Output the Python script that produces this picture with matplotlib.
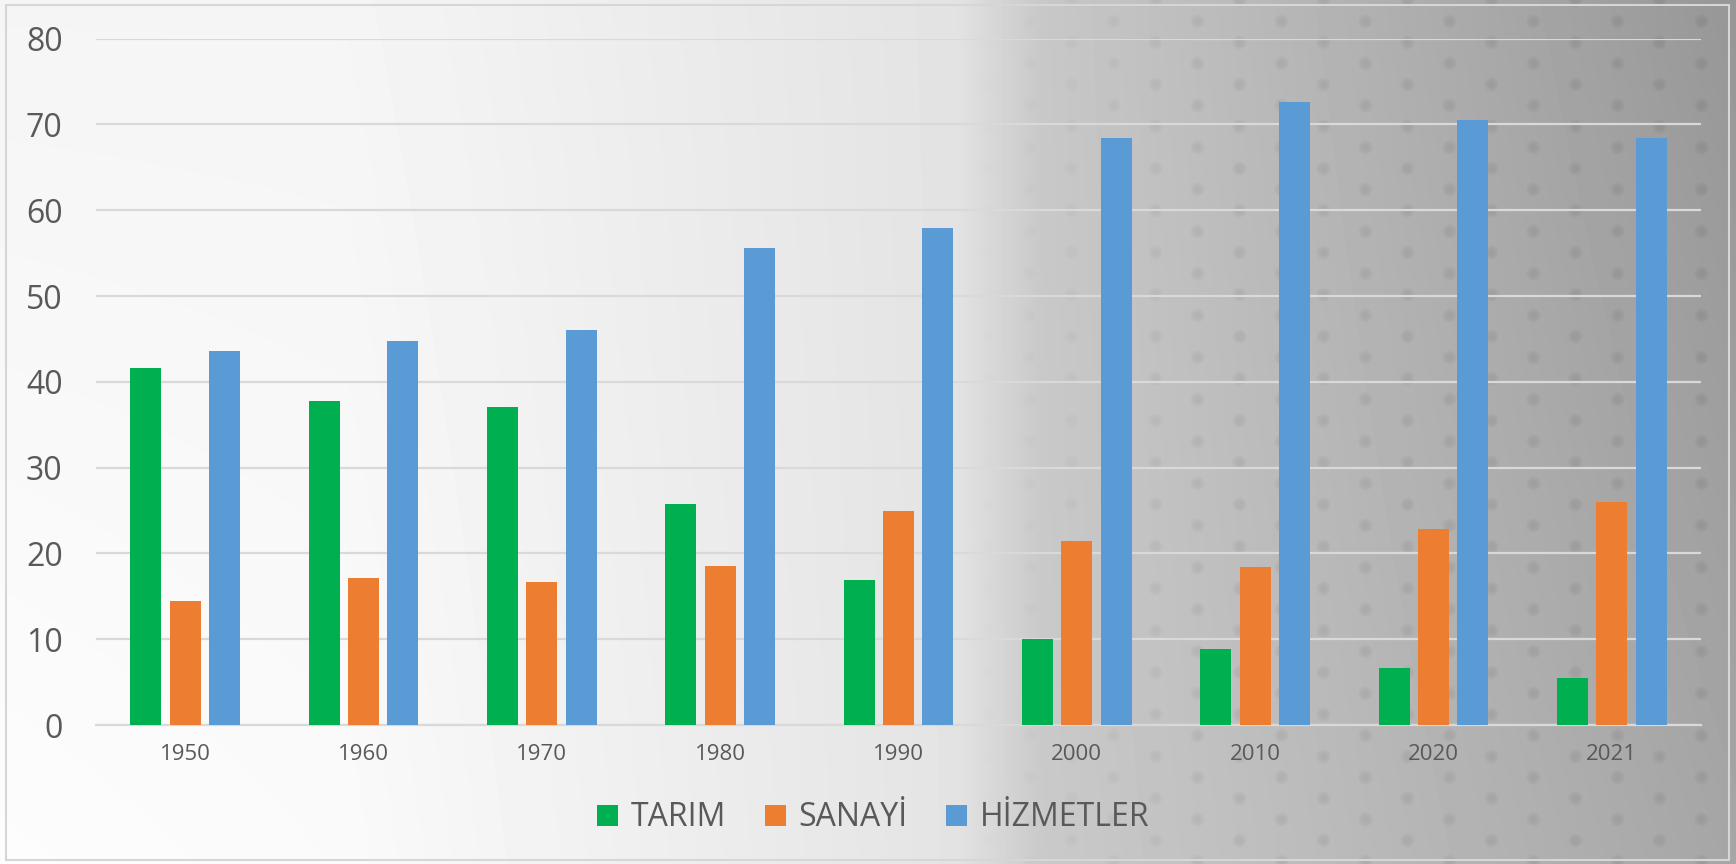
import numpy as np
import matplotlib
matplotlib.use("Agg")
import matplotlib.pyplot as plt
from matplotlib.patches import Patch, Rectangle

years = ["1950", "1960", "1970", "1980", "1990", "2000", "2010", "2020", "2021"]
tarim = [41.6, 37.8, 37.1, 25.8, 16.9, 10.0, 8.9, 6.6, 5.5]
sanayi = [14.5, 17.1, 16.7, 18.5, 25.0, 21.4, 18.4, 22.8, 26.0]
hizmetler = [43.6, 44.8, 46.1, 55.6, 57.9, 68.4, 72.6, 70.5, 68.4]
series_names = ["TARIM", "SANAYİ", "HİZMETLER"]
colors = ["#00B050", "#ED7D31", "#5B9BD5"]
yticks = [0, 10, 20, 30, 40, 50, 60, 70, 80]

plt.rcParams['font.family'] = ['Open Sans', 'DejaVu Sans']
W, H = 1736, 864
fig = plt.figure(figsize=(W / 100, H / 100), dpi=100)

# background gradient with faint dot texture
bg = fig.add_axes([0, 0, 1, 1], zorder=0)
xx, yy = np.meshgrid(np.linspace(0, 1, W), np.linspace(0, 1, H))
base = 0.96 - 0.07 * np.clip((xx - 0.2) / 0.35, 0, 1)
base -= 0.10 * np.clip((xx - 0.55) / 0.05, 0, 1)
base -= 0.14 * np.clip((xx - 0.6) / 0.4, 0, 1)
base -= 0.06 * (1 - yy) * np.clip((xx - 0.55) / 0.45, 0, 1)
base += 0.03 * yy * np.clip(1 - xx / 0.6, 0, 1)
px = np.arange(W)[None, :]
py = np.arange(H)[:, None]
sp = 42.0
dx = (px % sp) - sp / 2
dy = ((py + 21 * ((px // sp) % 2)) % sp) - sp / 2
r2 = dx ** 2 + dy ** 2
dots = np.clip(1 - r2 / 60.0, 0, 1)
mask = np.clip((xx - 0.55) / 0.15, 0, 1)
base = base - 0.05 * dots * mask
bg.imshow(np.clip(base, 0, 1), cmap='gray', vmin=0, vmax=1, aspect='auto',
          extent=[0, 1, 0, 1], origin='upper')
bg.add_patch(Rectangle((5.5 / W, 4 / H), (1729 - 5.5) / W, (859 - 4) / H,
                       fill=False, ec='#d6d6d6', lw=1.5, transform=bg.transAxes))
bg.set_axis_off()

ax = fig.add_axes([96 / W, 1 - 725 / H, (1701 - 96) / W, (725 - 38.7) / H], zorder=1)
ax.patch.set_alpha(0)
x = np.arange(len(years))
bw = 0.174
step = 0.22
for i, (vals, c, name) in enumerate(zip([tarim, sanayi, hizmetler], colors, series_names)):
    ax.bar(x + (i - 1) * step, vals, width=bw, color=c, label=name, zorder=3)

ax.set_xlim(-0.5, len(years) - 0.5)
ax.set_ylim(0, 80)
ax.set_yticks(yticks)
ax.set_xticks(x)
ax.set_xticklabels(years)
ax.yaxis.grid(True, color='#d9d9d9', lw=1.6, zorder=0)
ax.set_axisbelow(True)
for s in ['top', 'right', 'left']:
    ax.spines[s].set_visible(False)
ax.spines['bottom'].set_color('#d9d9d9')
ax.spines['bottom'].set_linewidth(1.6)
ax.tick_params(axis='both', length=0, colors='#595959')
ax.tick_params(axis='y', labelsize=23, pad=24)
ax.tick_params(axis='x', labelsize=16, pad=14)

handles = [Patch(facecolor=c, edgecolor='none') for c in colors]
fig.legend(handles, series_names, loc='center', bbox_to_anchor=(873.5 / W, 1 - 818 / H),
           ncol=3, frameon=False, fontsize=23, handlelength=0.66, handleheight=0.66,
           handletextpad=0.4, columnspacing=1.2, labelcolor='#595959')

fig.savefig("out.png", dpi=100)
